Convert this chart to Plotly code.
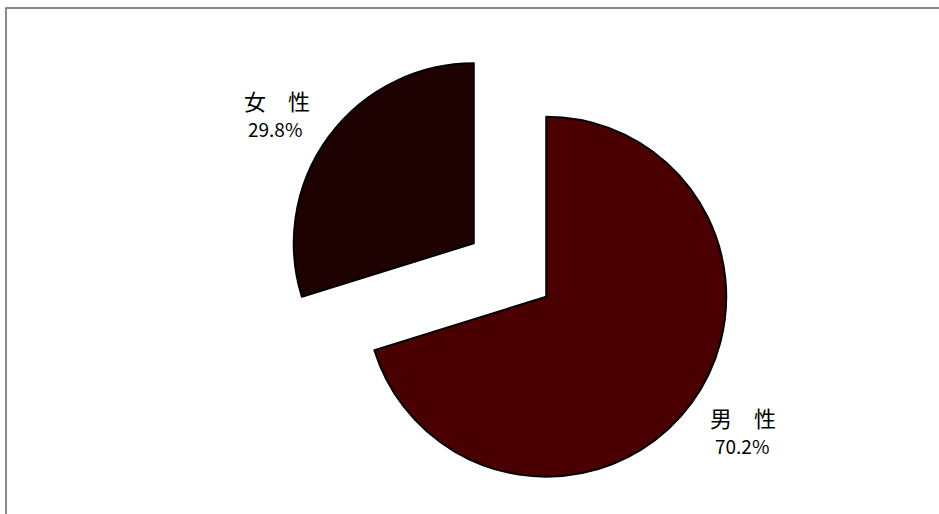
import plotly.graph_objects as go

# Gender breakdown (percent)
labels = ["男性", "女性"]
values = [70.2, 29.8]
colors = ["#4a0000", "#1e0202"]
pulls = [0.25, 0.25]

W, H = 939, 514

# label centre points (pixels): name line and percent line
name_xy = [(743, 417), (277, 100)]
pct_xy = [(742, 445), (275, 128)]

fig = go.Figure(
    go.Pie(
        labels=labels,
        values=values,
        sort=False,
        direction="clockwise",
        rotation=0,
        pull=pulls,
        textinfo="none",
        hoverinfo="label+percent",
        marker=dict(colors=colors, line=dict(color="#000000", width=2)),
        domain=dict(x=[285 / W, 735 / W], y=[1 - 495 / H, 1 - 45 / H]),
        showlegend=False,
    )
)

for lab, val, (nx, ny), (px, py) in zip(labels, values, name_xy, pct_xy):
    fig.add_annotation(
        x=nx / W, y=1 - ny / H, xref="paper", yref="paper",
        xanchor="center", yanchor="middle", borderpad=0,
        text="\u3000".join(lab),
        showarrow=False,
        font=dict(family="Noto Sans CJK JP", size=22, color="#000000"),
    )
    fig.add_annotation(
        x=px / W, y=1 - py / H, xref="paper", yref="paper",
        xanchor="center", yanchor="middle", borderpad=0,
        text=f"{val:.1f}%",
        showarrow=False,
        font=dict(family="Noto Sans CJK JP", size=19, color="#000000"),
    )

# outer frame
fig.add_shape(
    type="rect", xref="paper", yref="paper",
    x0=6 / W, y0=-0.05, x1=1.05, y1=1 - 8 / H,
    line=dict(color="#666666", width=1.5),
    fillcolor="rgba(0,0,0,0)",
)

fig.update_layout(
    width=W, height=H,
    margin=dict(l=0, r=0, t=0, b=0),
    paper_bgcolor="#ffffff",
    plot_bgcolor="#ffffff",
)

fig.write_html("out.html")
